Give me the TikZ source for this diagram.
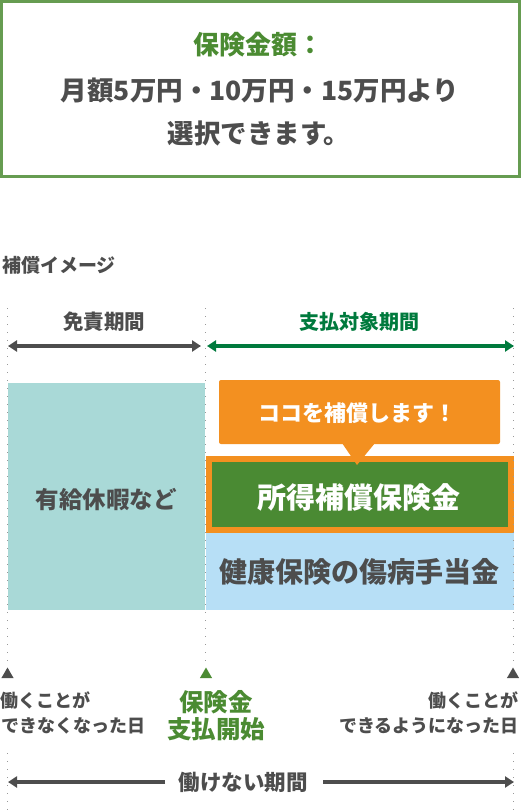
\documentclass[tikz,border=0pt]{standalone}
\usepackage{fontspec}
\setmainfont{Noto Sans CJK JP}[BoldFont={* Black}]
\usetikzlibrary{arrows.meta,shapes.geometric}
\definecolor{dgray}{HTML}{4D4D4D}
\definecolor{tgreen}{HTML}{4B8B32}
\definecolor{agreen}{HTML}{007A3D}
\definecolor{orng}{HTML}{F39020}
\definecolor{teal2}{HTML}{A9D9D7}
\definecolor{lblue}{HTML}{B7DFF6}
\definecolor{gbox}{HTML}{4A8A33}
\definecolor{dotgray}{HTML}{999999}
\tikzset{
  txt/.style={inner sep=0pt, font=\bfseries, text=dgray},
  dotline/.style={dotgray, line width=0.8pt, dash pattern=on 1pt off 7pt},
  bigarrow/.style={line width=4pt, {Triangle[length=9pt,width=11pt]}-{Triangle[length=9pt,width=11pt]}},
  onearrow/.style={line width=4pt, -{Triangle[length=9pt,width=11pt]}},
  marktri/.style={regular polygon, regular polygon sides=3, inner sep=0pt, minimum size=14pt},
}
\begin{document}
\begin{tikzpicture}[x=1pt,y=-1pt]
\useasboundingbox (0,0) rectangle (521,810);
% top box
\draw[tgreen!85!white, line width=3pt] (1.5,1.5) rectangle (519.5,176.5);
\node[txt, text=tgreen, font=\fontsize{26}{30}\selectfont\bfseries] (t1) at (258,45) {保険金額：};
\node[txt, font=\fontsize{26.5}{30}\selectfont\bfseries] (t2) at (260,90) {月額5万円・10万円・15万円より};
\node[txt, font=\fontsize{26.5}{30}\selectfont\bfseries] (t3) at (259,133) {選択できます。};
% heading
\node[txt, anchor=west, font=\fontsize{19}{22}\selectfont\bfseries] (head) at (2,265) {補償イメージ};
% coordinates for time marks
\coordinate (d1a) at (7,308); \coordinate (d1b) at (7,663);
\coordinate (d2a) at (205,308); \coordinate (d2b) at (205,663);
\coordinate (d3a) at (513,308); \coordinate (d3b) at (513,663);
\coordinate (e1a) at (7,753); \coordinate (e1b) at (7,810);
\coordinate (e3a) at (513,753); \coordinate (e3b) at (513,810);
% period labels
\node[txt, font=\fontsize{20.5}{24}\selectfont\bfseries] (menseki) at (104,322) {免責期間};
\node[txt, text=agreen, font=\fontsize{20}{24}\selectfont\bfseries] (shiharai) at (359,322) {支払対象期間};
\coordinate (a1l) at (8,346); \coordinate (a1r) at (201,346);
\coordinate (a2l) at (207,346); \coordinate (a2r) at (514,346);
\draw[bigarrow, dgray] (a1l) -- (a1r);
\draw[bigarrow, agreen] (a2l) -- (a2r);
% rectangles
\fill[teal2] (8,383) rectangle (205,610);
\node[txt, font=\fontsize{23.5}{26}\selectfont\bfseries] (yukyu) at (106,500) {有給休暇など};
\fill[lblue] (206,533) rectangle (514,610);
\node[txt, font=\fontsize{28}{32}\selectfont\bfseries] (kenko) at (359,572) {健康保険の傷病手当金};
\fill[orng] (206,456) rectangle (514,533);
\fill[gbox] (212,462) rectangle (508,527);
\node[txt, text=white, font=\fontsize{29}{32}\selectfont\bfseries] (shotoku) at (359,498) {所得補償保険金};
% callout
\fill[orng, rounded corners=2pt] (219,380) rectangle (500,444);
\fill[orng] (342,443) -- (375,443) -- (357,465) -- cycle;
\node[txt, text=white, font=\fontsize{22}{24}\selectfont\bfseries] (koko) at (357,413) {ココを補償します！};
% dotted lines
\draw[dotline] (d1a) -- (d1b);
\draw[dotline] (d2a) -- (d2b);
\draw[dotline] (d3a) -- (d3b);
\draw[dotline] (e1a) -- (e1b);
\draw[dotline] (e3a) -- (e3b);
% markers
\node[marktri, fill=dgray] (m1) at (7.5,674.5) {};
\node[marktri, fill=tgreen] (m2) at (206,674.5) {};
\node[marktri, fill=dgray] (m3) at (513,674.5) {};
% bottom labels
\node[txt, anchor=west, font=\fontsize{18}{20}\selectfont\bfseries] (l1) at (0,700) {働くことが};
\node[txt, anchor=west, font=\fontsize{18}{20}\selectfont\bfseries] (l2) at (1,726) {できなくなった日};
\node[txt, text=tgreen, font=\fontsize{24.5}{26}\selectfont\bfseries] (c1) at (216,702) {保険金};
\node[txt, text=tgreen, font=\fontsize{24.5}{26}\selectfont\bfseries] (c2) at (216,729) {支払開始};
\node[txt, anchor=east, font=\fontsize{18}{20}\selectfont\bfseries] (r1) at (519,700) {働くことが};
\node[txt, anchor=east, font=\fontsize{18}{20}\selectfont\bfseries] (r2) at (519,726) {できるようになった日};
% bottom arrow
\node[txt, font=\fontsize{21.5}{24}\selectfont\bfseries] (hatarakenai) at (243,782) {働けない期間};
\coordinate (b1l) at (8,782); \coordinate (b1r) at (165,782);
\coordinate (b2l) at (323,782); \coordinate (b2r) at (514,782);
\draw[onearrow, dgray] (b1r) -- (b1l);
\draw[onearrow, dgray] (b2l) -- (b2r);
\end{tikzpicture}
\end{document}
